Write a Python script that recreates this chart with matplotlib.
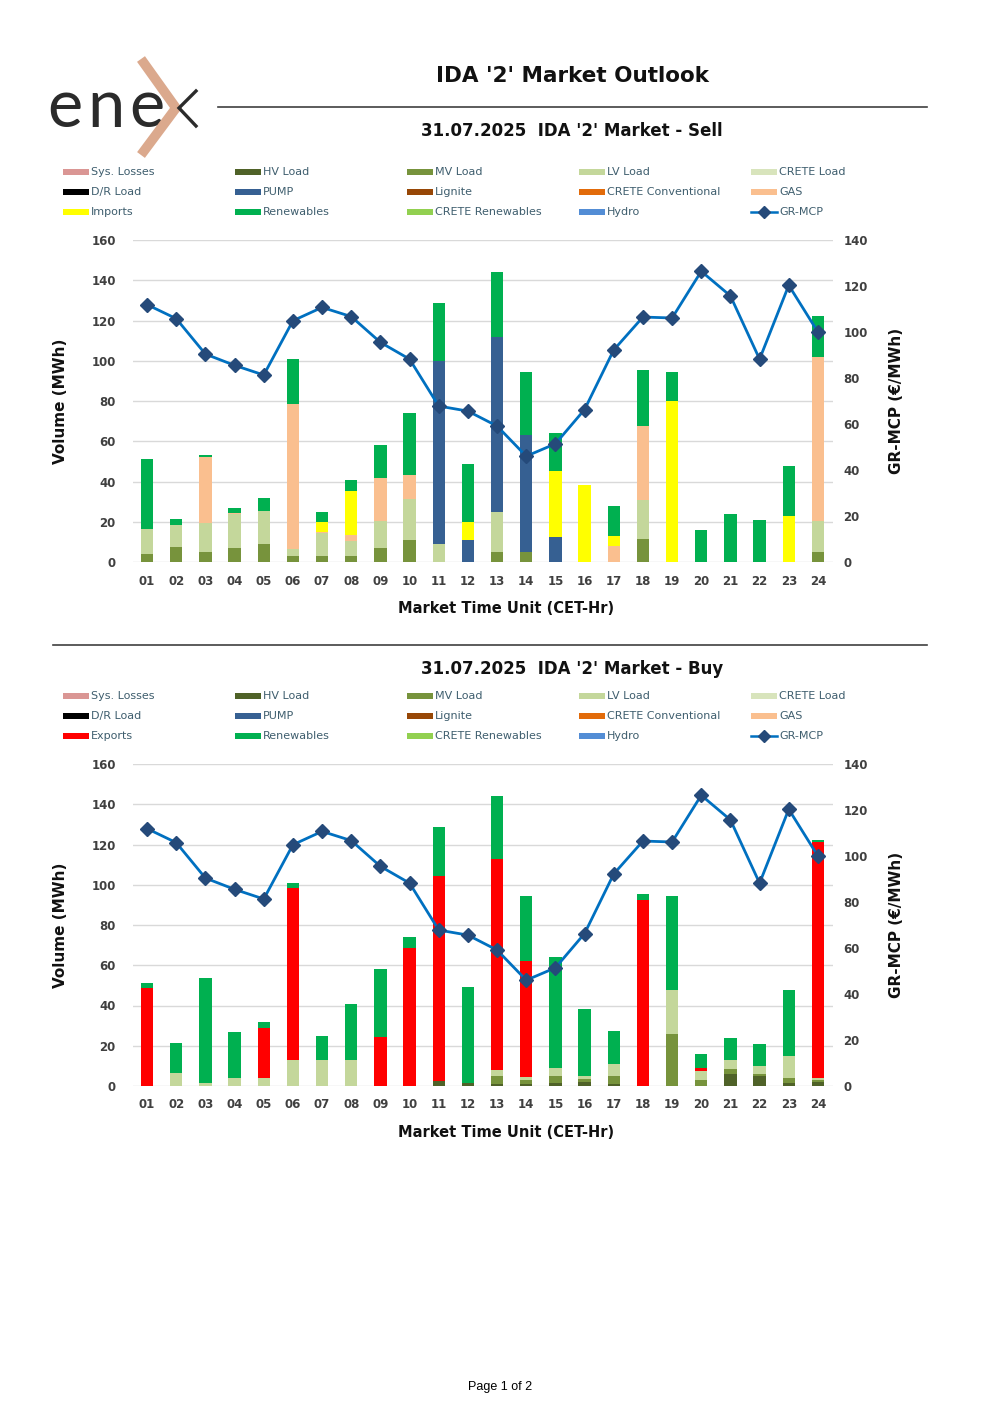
import matplotlib
matplotlib.use("Agg")
import matplotlib.pyplot as plt
from matplotlib.lines import Line2D
from matplotlib.patches import Rectangle
import numpy as np

hours = ["01","02","03","04","05","06","07","08","09","10","11","12",
         "13","14","15","16","17","18","19","20","21","22","23","24"]

mcp = [111.9,105.8,90.4,85.5,81.3,104.9,110.7,106.7,95.5,88.2,67.8,65.6,
       59.1,46.0,51.4,66.3,92.2,106.5,106.1,126.4,115.7,88.2,120.3,100.0]

# ---- Sell side (MWh) ----
sell_mv   = [4.1,7.3,4.8,7.0,8.8,2.8,3.2,3.2,7.1,10.8,0,0,4.8,4.8,0,0,0,11.4,0,0,0,0,0,4.8]
sell_lv   = [12.5,11.3,14.8,16.9,16.4,3.8,11.1,7.4,13.1,20.7,9.1,0,19.9,0,0,0,0,19.3,0,0,0,0,0,15.8]
sell_pump = [0,0,0,0,0,0,0,0,0,0,90.7,11.1,86.9,58.5,12.4,0,0,0,0,0,0,0,0,0]
sell_gas  = [0,0,32.8,0.5,0,71.8,0.8,3.0,21.3,11.5,0,0,0,0,0,0,7.8,36.8,0,0,0,0,0,81.2]
sell_imp  = [0,0,0,0,0,0,5.0,21.6,0,0,0,9.0,0,0,33.0,38.1,5.0,0,80.1,0,0,0,23.1,0]
sell_ren  = [34.6,2.8,1.0,2.3,6.8,22.4,4.9,5.3,16.5,31.0,28.7,28.7,32.5,30.9,18.8,0,14.9,27.9,14.1,16.1,24.0,21.1,24.8,20.4]

# ---- Buy side (MWh) ----
buy_hv  = [0,0,0,0,0,0,0,0,0,0,2.5,1.3,0.8,0.8,1.7,1.8,1.0,0,0,0,6.0,5.0,1.7,1.8]
buy_mv  = [0,0,0,0,0,0,0,0,0,0,0,0,4.3,2.2,3.3,1.5,4.0,0,25.7,3.2,2.5,1.0,2.4,1.2]
buy_lv  = [0,6.3,1.7,3.8,3.8,12.9,13.1,13.1,0,0,0,0,2.9,1.5,4.1,1.5,5.8,0,22.2,4.3,4.6,4.1,11.0,1.1]
buy_exp = [48.8,0,0,0,24.9,85.6,0,0,24.2,68.8,101.6,0,104.9,57.7,0,0,0,92.4,0,1.5,0,0,0,117.1]
buy_ren = [2.6,15.3,51.9,23.1,3.1,2.3,11.9,27.4,33.8,5.2,24.4,47.8,31.2,32.0,55.1,33.3,16.7,3.0,46.3,7.1,10.9,11.0,32.8,1.0]

legend_sell = ["Sys. Losses","HV Load","MV Load","LV Load","CRETE Load",
               "D/R Load","PUMP","Lignite","CRETE Conventional","GAS",
               "Imports","Renewables","CRETE Renewables","Hydro","GR-MCP"]
legend_buy = ["Sys. Losses","HV Load","MV Load","LV Load","CRETE Load",
              "D/R Load","PUMP","Lignite","CRETE Conventional","GAS",
              "Exports","Renewables","CRETE Renewables","Hydro","GR-MCP"]

COL = {"Sys. Losses":"#DA9694","HV Load":"#4F6228","MV Load":"#77933C","LV Load":"#C4D79B",
       "CRETE Load":"#D8E4BC","D/R Load":"#000000","PUMP":"#366092","Lignite":"#974706",
       "CRETE Conventional":"#E26B0A","GAS":"#FABF8F","Imports":"#FFFF00","Exports":"#FF0000",
       "Renewables":"#00B050","CRETE Renewables":"#92D050","Hydro":"#538DD5"}
LINE_C = "#0070C0"
MARK_C = "#254A7A"
TXT = "#404040"
LEG_TXT = "#3F5E6E"
FONT = "DejaVu Sans"

W, H = 1000, 1415
fig = plt.figure(figsize=(10, 14.15), dpi=100)

def fx(x): return x / W
def fy(y): return 1 - y / H

# ---- Logo ----
for ch, cx in zip("ene", [65, 106, 147]):
    fig.text(fx(cx), fy(127), ch, fontsize=48, color="#2B2B2B", family="Lato",
             fontweight="normal", va="baseline", ha="center", zorder=1)
fig.add_artist(Line2D([fx(141), fx(176), fx(141)], [fy(59), fy(108), fy(155)],
                      transform=fig.transFigure, color="#DBA98D", lw=7.0,
                      solid_joinstyle="miter", solid_capstyle="butt", zorder=3))
fig.add_artist(Line2D([fx(196), fx(179), fx(196)], [fy(91), fy(108), fy(126)],
                      transform=fig.transFigure, color="#2B2B2B", lw=2.4,
                      solid_joinstyle="miter", zorder=3))

# ---- Titles and rules ----
fig.text(fx(572), fy(76), "IDA '2' Market Outlook", fontsize=15.5, fontweight="bold",
         ha="center", va="center", family=FONT, color="#111111")
fig.add_artist(Line2D([fx(218), fx(927)], [fy(107), fy(107)], transform=fig.transFigure,
                      color="#404040", lw=1.2))
fig.add_artist(Line2D([fx(53), fx(927)], [fy(645), fy(645)], transform=fig.transFigure,
                      color="#404040", lw=1.2))
fig.text(fx(500), fy(1387), "Page 1 of 2", fontsize=9, ha="center", va="center",
         family="Liberation Sans", color="#000000")


def draw_legend(labels, y0):
    xs = [63, 235, 407, 579, 751]
    for i, lab in enumerate(labels):
        r, c = divmod(i, 5)
        x = xs[c]
        y = y0 + 20 * r
        if lab == "GR-MCP":
            fig.add_artist(Line2D([fx(x), fx(x + 26)], [fy(y), fy(y)], transform=fig.transFigure,
                                  color=LINE_C, lw=1.8))
            fig.add_artist(Line2D([fx(x + 13)], [fy(y)], transform=fig.transFigure,
                                  marker="D", color=MARK_C, markersize=6, lw=0))
        else:
            fig.add_artist(Rectangle((fx(x), fy(y + 3)), 26 / W, 6 / H, transform=fig.transFigure,
                                     facecolor=COL[lab], edgecolor="none"))
        fig.text(fx(x + 28), fy(y), lab, fontsize=8, color=LEG_TXT, va="center", ha="left",
                 family=FONT)


def draw_chart(title, title_y, leg_y, y_zero, leg_names, series):
    fig.text(fx(572), fy(title_y), title, fontsize=12, fontweight="bold", ha="center",
             va="center", family=FONT, color="#111111")
    draw_legend(leg_names, leg_y)
    left, right = 132.5, 832.5
    ax = fig.add_axes([fx(left), fy(y_zero), (right - left) / W, 322 / H])
    x = np.arange(len(hours))
    bottom = np.zeros(len(hours))
    for name, vals in series:
        v = np.array(vals, dtype=float)
        ax.bar(x, v, bottom=bottom, width=0.42, color=COL[name], linewidth=0, zorder=2)
        bottom += v
    ax.set_xlim(-0.5, len(hours) - 0.5)
    ax.set_ylim(0, 160)
    ax.set_yticks(np.arange(0, 161, 20))
    ax.grid(axis="y", color="#D9D9D9", lw=1, zorder=0)
    ax.set_axisbelow(True)
    for s in ax.spines.values():
        s.set_visible(False)
    ax.tick_params(axis="both", length=0, labelsize=8.5, labelcolor=TXT)
    ax.tick_params(axis="y", pad=12)
    ax.tick_params(axis="x", pad=9)
    ax.set_xticks(x)
    ax.set_xticklabels(hours, fontweight="bold", family=FONT)
    for t in ax.get_yticklabels():
        t.set_fontweight("bold")
    ax.set_ylabel("Volume (MWh)", fontsize=11, fontweight="bold", color="#111111", labelpad=17)
    ax.set_xlabel("Market Time Unit (CET-Hr)", fontsize=10.5, fontweight="bold", color="#111111")
    ax.xaxis.set_label_coords((506 - left) / (right - left), -0.12)
    ax2 = ax.twinx()
    ax2.set_ylim(0, 140)
    ax2.set_yticks(np.arange(0, 141, 20))
    for s in ax2.spines.values():
        s.set_visible(False)
    ax2.tick_params(axis="y", length=0, labelsize=8.5, labelcolor=TXT, pad=8)
    for t in ax2.get_yticklabels():
        t.set_fontweight("bold")
    ax2.plot(x, mcp, color=LINE_C, lw=2, marker="D", markersize=7, markerfacecolor=MARK_C,
             markeredgecolor=MARK_C, zorder=5)
    ax2.set_ylabel("GR-MCP (€/MWh)", fontsize=11, fontweight="bold", color="#111111", labelpad=15)
    return ax


draw_chart("31.07.2025  IDA '2' Market - Sell", 131, 172, 562, legend_sell,
           [("MV Load", sell_mv), ("LV Load", sell_lv), ("PUMP", sell_pump),
            ("GAS", sell_gas), ("Imports", sell_imp), ("Renewables", sell_ren)])
draw_chart("31.07.2025  IDA '2' Market - Buy", 669, 696, 1086, legend_buy,
           [("HV Load", buy_hv), ("MV Load", buy_mv), ("LV Load", buy_lv),
            ("Exports", buy_exp), ("Renewables", buy_ren)])

fig.savefig("out.png", dpi=100)
